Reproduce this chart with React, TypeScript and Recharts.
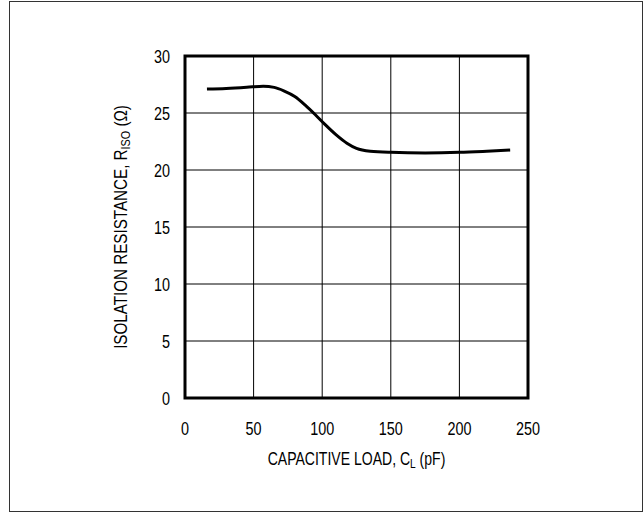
import React from 'react';
import { LineChart, Line, XAxis, YAxis, CartesianGrid, ReferenceArea } from 'recharts';

const capacitance = [16, 30, 45, 57, 65, 72, 80, 88, 95, 102, 110, 118, 125, 135, 150, 175, 200, 220, 237];
const resistance = [27.1, 27.15, 27.25, 27.35, 27.25, 26.95, 26.45, 25.65, 24.85, 24.0, 23.1, 22.35, 21.9, 21.65, 21.55, 21.5, 21.55, 21.65, 21.75];
const xTicks = [0, 50, 100, 150, 200, 250];
const yTicks = [0, 5, 10, 15, 20, 25, 30];

const data = capacitance.map((c, i) => ({ c, r: resistance[i] }));

const FONT = '"Liberation Sans", Arial, sans-serif';
const SX = 0.8;

const XTick = (props: any) => {
  const { x, y, payload } = props;
  return (
    <g transform={`translate(${x},${y}) scale(${SX},1)`}>
      <text x={0} y={0} dy={13} textAnchor="middle" fontSize={18} fontFamily={FONT} fill="#000">
        {payload.value}
      </text>
    </g>
  );
};

const YTick = (props: any) => {
  const { x, y, payload } = props;
  return (
    <g transform={`translate(${x},${y}) scale(${SX},1)`}>
      <text x={0} y={0} dy={6.5} textAnchor="end" fontSize={18} fontFamily={FONT} fill="#000">
        {payload.value}
      </text>
    </g>
  );
};

const YLabel = (props: any) => {
  const vb = props.viewBox || {};
  const cx = vb.x + 127;
  const cy = vb.y + vb.height / 2;
  return (
    <g transform={`translate(${cx},${cy}) rotate(-90) scale(${SX},1)`}>
      <text x={0} y={0} textAnchor="middle" fontSize={19} fontFamily={FONT} fill="#000">
        ISOLATION RESISTANCE, R<tspan fontSize={13.5} dy={3}>ISO</tspan><tspan dy={-3}> (Ω)</tspan>
      </text>
    </g>
  );
};

const XLabel = (props: any) => {
  const vb = props.viewBox || {};
  const cx = vb.x + vb.width / 2;
  const cy = vb.y + 67;
  return (
    <g transform={`translate(${cx},${cy}) scale(0.78,1)`}>
      <text x={0} y={0} textAnchor="middle" fontSize={18} fontFamily={FONT} fill="#000">
        CAPACITIVE LOAD, C<tspan fontSize={13} dy={3}>L</tspan><tspan dy={-3}> (pF)</tspan>
      </text>
    </g>
  );
};

export default function App() {
  return (
    <div style={{ position: 'absolute', left: 0, top: 0, width: 644, height: 515, background: '#fff' }}>
      <div style={{ position: 'absolute', left: 9, top: 1, width: 632, height: 509, border: '1.5px solid #333' }} />
      <LineChart width={644} height={515} data={data} margin={{ top: 56, right: 116, bottom: 0, left: 0 }}>
        <CartesianGrid stroke="#000" strokeWidth={1} horizontalValues={yTicks} verticalValues={xTicks} />
        <XAxis
          dataKey="c"
          type="number"
          domain={[0, 250]}
          ticks={xTicks}
          tickSize={0}
          tickMargin={24}
          axisLine={false}
          tick={<XTick />}
          height={117}
          label={<XLabel />}
        />
        <YAxis
          type="number"
          domain={[0, 30]}
          ticks={yTicks}
          tickSize={0}
          tickMargin={15}
          axisLine={false}
          width={185}
          tick={<YTick />}
          label={<YLabel />}
        />
        <ReferenceArea x1={0} x2={250} y1={0} y2={30} fill="none" stroke="#000" strokeWidth={3} />
        <Line type="monotone" dataKey="r" stroke="#000" strokeWidth={3} dot={false} isAnimationActive={false} />
      </LineChart>
    </div>
  );
}
